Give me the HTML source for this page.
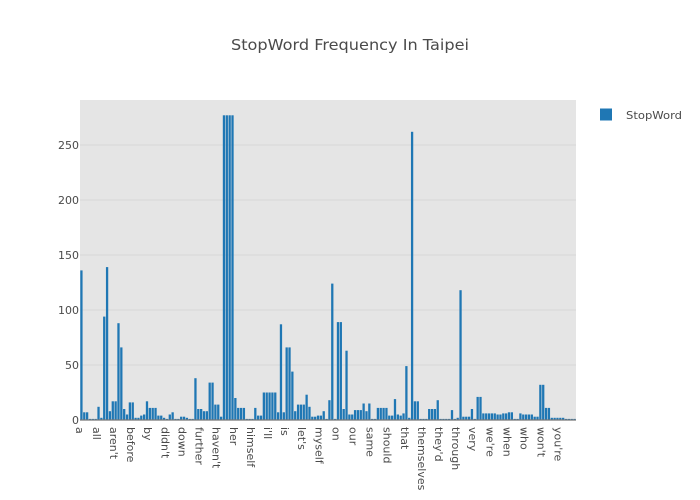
<!DOCTYPE html>
<html>
<head>
<meta charset="utf-8">
<title>StopWord Frequency In Taipei</title>
<style>
html,body{margin:0;padding:0;background:#fff;}
#chart{display:block;width:700px;height:500px;font-family:"DejaVu Sans","Liberation Sans",sans-serif;}
text{fill:#4a4a4a;}
</style>
</head>
<body>
<svg id="chart" width="700" height="500" viewBox="0 0 700 500" xmlns="http://www.w3.org/2000/svg">
  <rect x="0" y="0" width="700" height="500" fill="#fff"></rect>
  <rect x="80" y="100" width="496" height="320" fill="#e5e5e5"></rect>
  <g id="grid"></g>
  <g id="bars"></g>
  <line x1="80" x2="576" y1="420" y2="420" stroke="#777" stroke-width="1.2"></line>
  <g id="yticks"></g>
  <g id="xticks"></g>
  <text x="350" y="50" text-anchor="middle" font-size="15.5" textLength="238" lengthAdjust="spacingAndGlyphs">StopWord Frequency In Taipei</text>
  <rect x="600" y="108.5" width="12" height="12" fill="#1f77b4"></rect>
  <text x="626" y="119" font-size="11" textLength="56" lengthAdjust="spacingAndGlyphs">StopWord</text>
</svg>
<script>
const categories = ["a","about","above","after","again","against","all","am","an","and","any","are","aren't","as","at","be","because","been","before","being","below","between","both","but","by","can't","cannot","could","couldn't","did","didn't","do","does","doesn't","doing","don't","down","during","each","few","for","from","further","had","hadn't","has","hasn't","have","haven't","having","he","he'd","he'll","he's","her","here","here's","hers","herself","him","himself","his","how","how's","i","i'd","i'll","i'm","i've","if","in","into","is","isn't","it","it's","its","itself","let's","me","more","most","mustn't","my","myself","no","nor","not","of","off","on","once","only","or","other","ought","our","ours","ourselves","out","over","own","same","shan't","she","she'd","she'll","she's","should","shouldn't","so","some","such","than","that","that's","the","their","theirs","them","themselves","then","there","there's","these","they","they'd","they'll","they're","they've","this","those","through","to","too","under","until","up","very","was","wasn't","we","we'd","we'll","we're","we've","were","weren't","what","what's","when","when's","where","where's","which","while","who","who's","whom","why","why's","with","won't","would","wouldn't","you","you'd","you'll","you're","you've","your","yours","yourself","yourselves"];
const counts = [136,7,7,1,1,1,12,2,94,139,8,17,17,88,66,10,5,16,16,2,2,4,5,17,11,11,11,4,4,2,1,5,7,1,1,3,3,2,1,1,38,10,10,8,8,34,34,14,14,3,277,277,277,277,20,11,11,11,1,1,1,11,4,4,25,25,25,25,25,7,87,7,66,66,44,8,14,14,14,23,12,3,3,4,4,8,1,18,124,1,89,89,10,63,5,5,9,9,9,15,8,15,1,1,11,11,11,11,4,4,19,5,4,6,49,2,262,17,17,1,1,1,10,10,10,18,1,1,1,1,9,1,2,118,3,3,3,10,1,21,21,6,6,6,6,6,5,5,6,6,7,7,1,1,6,5,5,5,5,3,3,32,32,11,11,2,2,2,2,2,1,1,1,1];
const yTickValues = [0,50,100,150,200,250];
const tickStep = 6;

const SVG_NS = "http://www.w3.org/2000/svg";
const plotLeft = 80, plotWidth = 496, plotBottom = 420, unitHeight = 1.1, barFraction = 0.8;
const pitch = plotWidth / categories.length;
function xScale(i) { return plotLeft + (i + 0.5) * pitch; }
function yScale(v) { return plotBottom - v * unitHeight; }

const gridGroup = document.getElementById("grid");
const yTickGroup = document.getElementById("yticks");
const xTickGroup = document.getElementById("xticks");
const barGroup = document.getElementById("bars");

yTickValues.forEach(function (v) {
  if (v > 0) {
    const line = document.createElementNS(SVG_NS, "line");
    
    
    line.setAttribute("x1", plotLeft);
    line.setAttribute("x2", plotLeft + plotWidth);
    line.setAttribute("y1", yScale(v));
    line.setAttribute("y2", yScale(v));
    line.setAttribute("stroke", "#d8d8d8");
    line.setAttribute("stroke-width", "1");
    gridGroup.appendChild(line);
  }
  const label = document.createElementNS(SVG_NS, "text");
  
  
  label.setAttribute("x", plotLeft - 1);
  label.setAttribute("y", yScale(v) + 4.2);
  label.setAttribute("text-anchor", "end");
  label.setAttribute("font-size", "11");
  label.textContent = String(v);
  yTickGroup.appendChild(label);
});

counts.forEach(function (v, i) {
  const bar = document.createElementNS(SVG_NS, "rect");
  
  
  const w = pitch * barFraction;
  bar.setAttribute("x", xScale(i) - w / 2);
  bar.setAttribute("y", yScale(v));
  bar.setAttribute("width", w);
  bar.setAttribute("height", plotBottom - yScale(v));
  bar.setAttribute("fill", "#1f77b4");
  const tip = document.createElementNS(SVG_NS, "title");
  tip.textContent = categories[i] + ": " + v;
  bar.appendChild(tip);
  barGroup.appendChild(bar);
});

categories.forEach(function (c, i) {
  if (i % tickStep !== 0) return;
  const label = document.createElementNS(SVG_NS, "text");
  
  
  const tx = xScale(i) - 5.6;
  label.setAttribute("transform", "translate(" + tx + ",427) rotate(90)");
  label.setAttribute("font-size", "11");
  label.textContent = c;
  xTickGroup.appendChild(label);
});
</script>
</body>
</html>
